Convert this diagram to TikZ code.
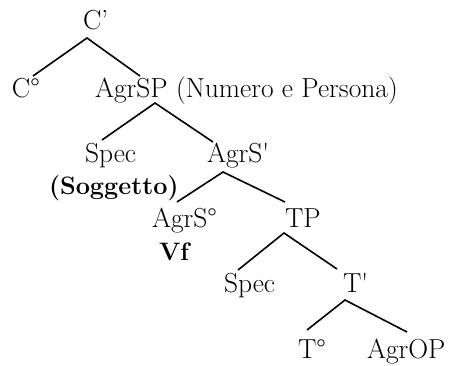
\documentclass[tikz,border=0pt]{standalone}
\begin{document}
\begin{tikzpicture}[x=1pt,y=-1pt,
  lbl/.style={anchor=base west,inner sep=0pt,outer sep=0pt,font=\fontsize{27.5}{33}\selectfont},
  bl/.style={lbl,font=\fontsize{25.2}{30}\selectfont\bfseries},
  edge/.style={line width=1.6pt}]
\useasboundingbox (0,0) rectangle (449,365);
% labels
\node[lbl] (cbar) at (83,29) {C’};
\node[lbl] (c0) at (12,97) {C\textdegree};
\node[lbl] (agrsp) at (95,97) {AgrSP (Numero e Persona)};
\node[lbl] (spec1) at (85,162) {Spec};
\node[lbl] (agrsbar) at (207,162) {AgrS\textquotesingle};
\node[bl] (sogg) at (49,194) {(Soggetto)};
\node[lbl] (agrs0) at (152,227) {AgrS\textdegree};
\node[lbl] (tp) at (285,227) {TP};
\node[bl] (vf) at (159,260) {Vf};
\node[lbl] (spec2) at (224,292) {Spec};
\node[lbl] (tbar) at (343,292) {T\textquotesingle};
\node[lbl] (t0) at (298,358) {T\textdegree};
\node[lbl] (agrop) at (367,358) {AgrOP};
% branch points
\coordinate (cbar-b) at (87,38);
\coordinate (c0-t) at (33,76);
\coordinate (agrsp-t) at (140,76);
\coordinate (agrsp-b) at (155,103);
\coordinate (spec1-t) at (102,140);
\coordinate (agrsbar-t) at (213,142);
\coordinate (agrsbar-b) at (223,172);
\coordinate (agrs0-t) at (177,202);
\coordinate (tp-t) at (285,202);
\coordinate (tp-b) at (284,233);
\coordinate (spec2-t) at (238,270);
\coordinate (tbar-t) at (337,269);
\coordinate (tbar-b) at (345,300);
\coordinate (t0-t) at (307,330);
\coordinate (agrop-t) at (407,332);
% edges
\draw[edge] (c0-t) -- (cbar-b) -- (agrsp-t);
\draw[edge] (spec1-t) -- (agrsp-b) -- (agrsbar-t);
\draw[edge] (agrs0-t) -- (agrsbar-b) -- (tp-t);
\draw[edge] (spec2-t) -- (tp-b) -- (tbar-t);
\draw[edge] (t0-t) -- (tbar-b) -- (agrop-t);
\end{tikzpicture}
\end{document}
